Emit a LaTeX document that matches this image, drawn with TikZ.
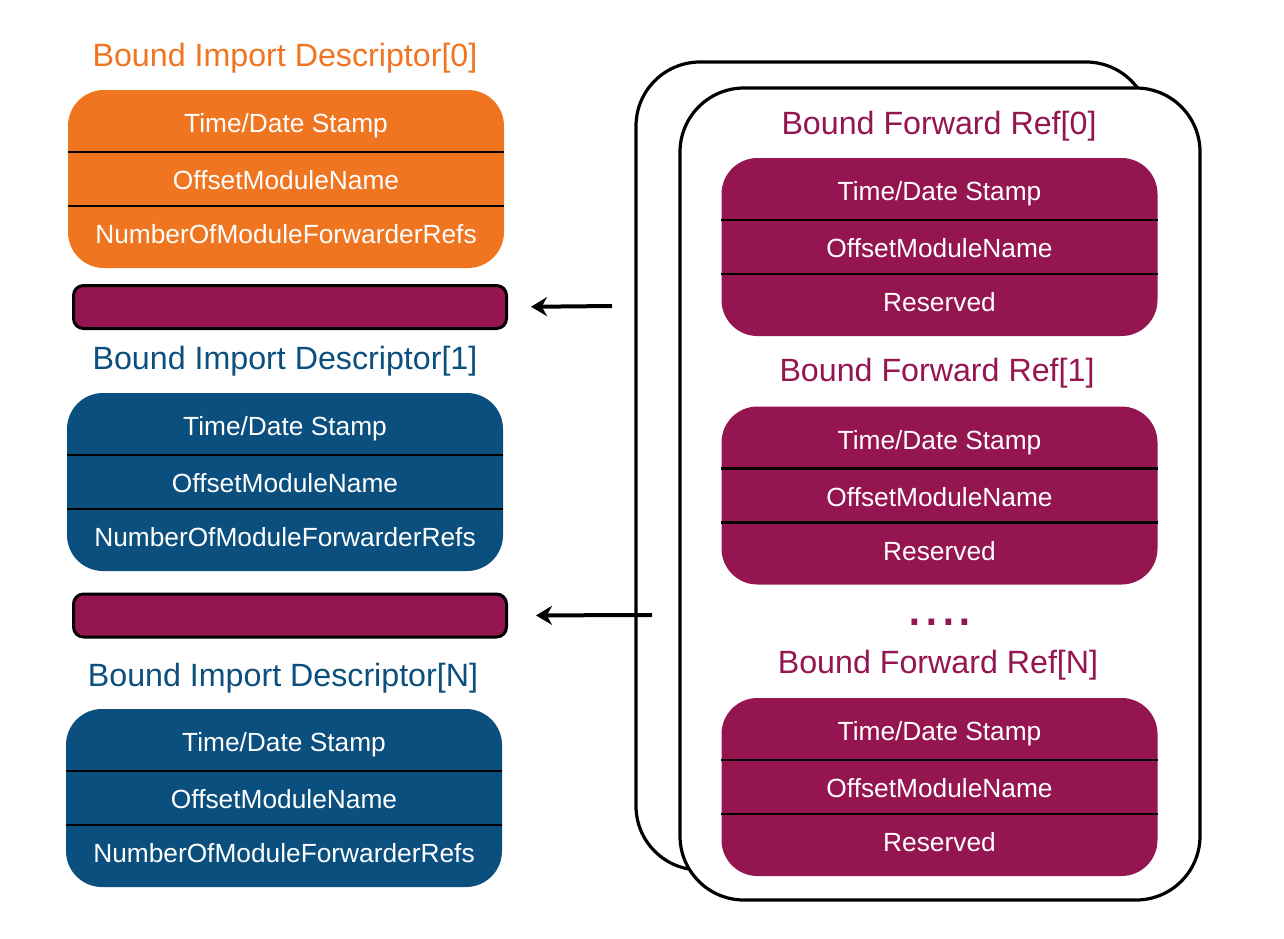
\documentclass[tikz,border=0pt]{standalone}
\usepackage{fontspec}
\setmainfont{Liberation Sans}
\usetikzlibrary{positioning,arrows.meta}
\definecolor{descorange}{HTML}{F07521}
\definecolor{descblue}{HTML}{0B4F7E}
\definecolor{refpurple}{HTML}{951551}

\begin{document}
\begin{tikzpicture}[x=1pt, y=-1pt,
    record/.style   ={rectangle, rounded corners=36pt, minimum width=436pt,
                      minimum height=178pt, inner sep=0pt},
    orangerec/.style={record, fill=descorange},
    bluerec/.style  ={record, fill=descblue},
    purplerec/.style={record, fill=refpurple},
    field/.style    ={text=white, font=\fontsize{26.3}{30}\selectfont, inner sep=0pt,
                      text height=19pt, text depth=0pt},
    sepline/.style  ={draw=black, line width=2.5pt},
    title/.style    ={font=\fontsize{32.2}{36}\selectfont, inner sep=0pt,
                      text height=23pt, text depth=0pt},
    refbar/.style   ={rectangle, rounded corners=10pt, minimum width=433pt,
                      minimum height=43pt, fill=refpurple, draw=black, line width=3pt},
    frame/.style    ={draw=black, fill=white, line width=3.2pt, rounded corners=64pt},
    ptr/.style      ={-{Stealth[length=16pt, width=19pt]}, line width=4pt}
  ]
    \useasboundingbox[fill=white] (0,0) rectangle (1284,938);

    % --- descriptor [0] ---
    \node[title, text=descorange] (t0) at (285,55) {Bound Import Descriptor[0]};
    \node[orangerec] (d0) at (286,179) {};
    \draw[sepline] ([yshift=27pt]d0.west) -- ([yshift=27pt]d0.east);
    \draw[sepline] ([yshift=-27pt]d0.west) -- ([yshift=-27pt]d0.east);
    \node[field] (d0a) at ([yshift=56pt]d0.center) {Time/Date Stamp};
    \node[field] (d0b) at ([yshift=-1pt]d0.center) {OffsetModuleName};
    \node[field] (d0c) at ([yshift=-55pt]d0.center) {NumberOfModuleForwarderRefs};
    \node[refbar] (bar1) at (290,307) {};

    % --- descriptor [1] ---
    \node[title, text=descblue] (t1) at (285,358) {Bound Import Descriptor[1]};
    \node[bluerec] (d1) at (285,482) {};
    \draw[sepline] ([yshift=27pt]d1.west) -- ([yshift=27pt]d1.east);
    \draw[sepline] ([yshift=-27pt]d1.west) -- ([yshift=-27pt]d1.east);
    \node[field] (d1a) at ([yshift=56pt]d1.center) {Time/Date Stamp};
    \node[field] (d1b) at ([yshift=-1pt]d1.center) {OffsetModuleName};
    \node[field] (d1c) at ([yshift=-55pt]d1.center) {NumberOfModuleForwarderRefs};
    \node[refbar] (bar2) at (290,615.5) {};

    % --- descriptor [N] ---
    \node[title, text=descblue] (tN) at (283,674.5) {Bound Import Descriptor[N]};
    \node[bluerec] (dN) at (284,798) {};
    \draw[sepline] ([yshift=27pt]dN.west) -- ([yshift=27pt]dN.east);
    \draw[sepline] ([yshift=-27pt]dN.west) -- ([yshift=-27pt]dN.east);
    \node[field] (dNa) at ([yshift=56pt]dN.center) {Time/Date Stamp};
    \node[field] (dNb) at ([yshift=-1pt]dN.center) {OffsetModuleName};
    \node[field] (dNc) at ([yshift=-55pt]dN.center) {NumberOfModuleForwarderRefs};

    % --- stacked forward ref frames ---
    \draw[frame] (636,62) rectangle (1150,870);
    \draw[frame] (680,88) rectangle (1200,900);

    % forward ref [0]
    \node[title, text=refpurple] (f0) at (939,123) {Bound Forward Ref[0]};
    \node[purplerec] (r0) at (939.5,247) {};
    \draw[sepline] ([yshift=27pt]r0.west) -- ([yshift=27pt]r0.east);
    \draw[sepline] ([yshift=-27pt]r0.west) -- ([yshift=-27pt]r0.east);
    \node[field] (r0a) at ([yshift=56pt]r0.center) {Time/Date Stamp};
    \node[field] (r0b) at ([yshift=-1pt]r0.center) {OffsetModuleName};
    \node[field] (r0c) at ([yshift=-55pt]r0.center) {Reserved};

    % forward ref [1]
    \node[title, text=refpurple] (f1) at (937,370) {Bound Forward Ref[1]};
    \node[purplerec] (r1) at (939.5,495.5) {};
    \draw[sepline] ([yshift=27pt]r1.west) -- ([yshift=27pt]r1.east);
    \draw[sepline] ([yshift=-27pt]r1.west) -- ([yshift=-27pt]r1.east);
    \node[field] (r1a) at ([yshift=56pt]r1.center) {Time/Date Stamp};
    \node[field] (r1b) at ([yshift=-1pt]r1.center) {OffsetModuleName};
    \node[field] (r1c) at ([yshift=-55pt]r1.center) {Reserved};

    % dots
    \node[text=refpurple, font=\fontsize{60}{60}\selectfont, inner sep=0pt,
          anchor=south] (dots) at (940,626) {....};

    % forward ref [N]
    \node[title, text=refpurple] (fN) at (938,662) {Bound Forward Ref[N]};
    \node[purplerec] (rN) at (939.5,787) {};
    \draw[sepline] ([yshift=27pt]rN.west) -- ([yshift=27pt]rN.east);
    \draw[sepline] ([yshift=-27pt]rN.west) -- ([yshift=-27pt]rN.east);
    \node[field] (rNa) at ([yshift=56pt]rN.center) {Time/Date Stamp};
    \node[field] (rNb) at ([yshift=-1pt]rN.center) {OffsetModuleName};
    \node[field] (rNc) at ([yshift=-55pt]rN.center) {Reserved};

    % --- pointers back to the bars ---
    \coordinate (s1) at (612,306);
    \coordinate (s2) at (652,615);
    \draw[ptr, shorten >=23pt] (s1) -- (bar1.east);
    \draw[ptr, shorten >=28pt] (s2) -- (bar2.east);
  \end{tikzpicture}
\end{document}
